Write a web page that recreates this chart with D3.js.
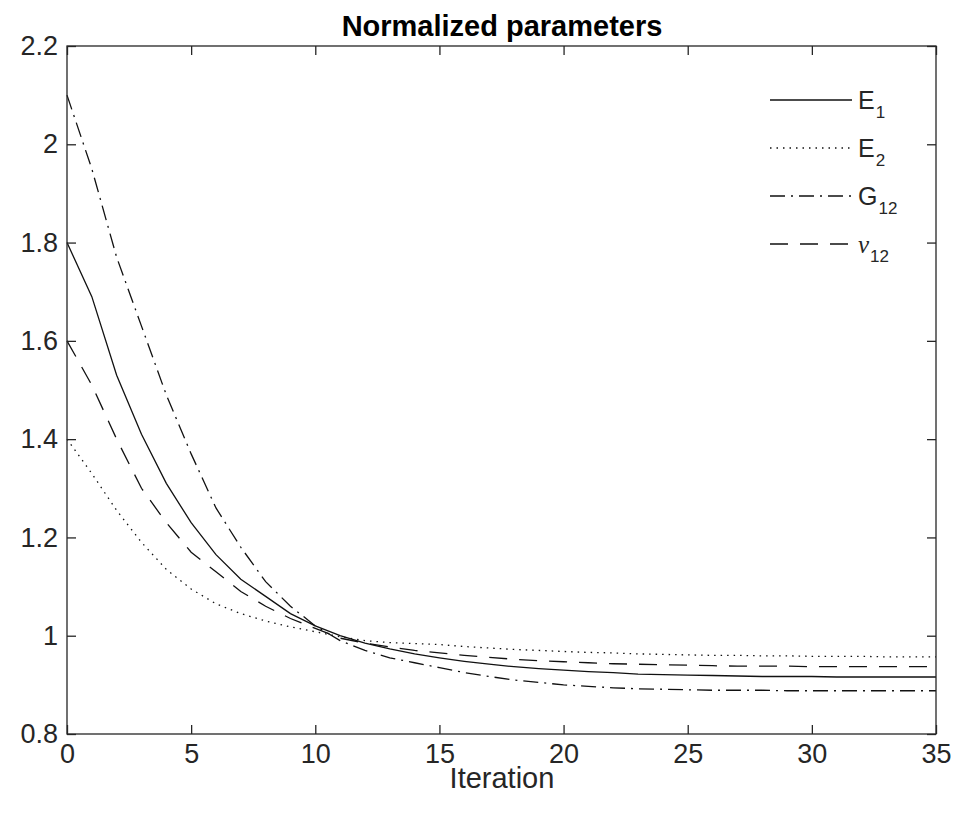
<!DOCTYPE html>
<html>
<head>
<meta charset="utf-8">
<script src="https://cdn.jsdelivr.net/npm/d3@7"></script>
<style>
  body { margin: 0; background: #fff; }
  svg { display: block; font-family: "Liberation Sans", Arial, sans-serif; }
  .tick-label { fill: #262626; font-size: 27px; }
</style>
</head>
<body>
<svg></svg>
<script>
// iterations 0..35
const iterations = d3.range(0, 36)

// values, one per iteration
const e1 = [1.80, 1.69, 1.53, 1.41, 1.31, 1.23, 1.165, 1.115, 1.08, 1.045, 1.02, 1.00,
    0.985, 0.973, 0.963, 0.955, 0.948, 0.942, 0.937, 0.933, 0.930, 0.927, 0.925, 0.922,
    0.921, 0.920, 0.919, 0.918, 0.917, 0.917, 0.917, 0.916, 0.916, 0.916, 0.916, 0.916]

const e2 = [1.40, 1.33, 1.255, 1.19, 1.135, 1.095, 1.065, 1.045, 1.03, 1.018, 1.008, 0.998,
    0.990, 0.986, 0.984, 0.982, 0.978, 0.975, 0.972, 0.970, 0.968, 0.966, 0.965, 0.963,
    0.962, 0.961, 0.960, 0.960, 0.959, 0.959, 0.958, 0.958, 0.958, 0.957, 0.957, 0.957]

const g12 = [2.10, 1.95, 1.77, 1.63, 1.49, 1.37, 1.26, 1.18, 1.11, 1.06, 1.02, 0.99,
    0.970, 0.955, 0.945, 0.935, 0.925, 0.917, 0.910, 0.905, 0.900, 0.897, 0.894, 0.892,
    0.891, 0.890, 0.889, 0.889, 0.889, 0.888, 0.888, 0.888, 0.888, 0.888, 0.888, 0.888]

const nu12 = [1.60, 1.51, 1.40, 1.30, 1.23, 1.17, 1.13, 1.09, 1.06, 1.035, 1.015, 0.995,
    0.985, 0.977, 0.970, 0.965, 0.960, 0.956, 0.952, 0.949, 0.947, 0.945, 0.943, 0.942,
    0.941, 0.940, 0.939, 0.938, 0.938, 0.938, 0.937, 0.937, 0.937, 0.937, 0.937, 0.937]

const xTicks = [0, 5, 10, 15, 20, 25, 30, 35]
const yTicks = [0.8, 1, 1.2, 1.4, 1.6, 1.8, 2, 2.2]

// legend entries: name, subscript, italic?, values, dash pattern
const series = [
    { name: "E", sub: "1", italic: false, values: e1, dash: null },
    { name: "E", sub: "2", italic: false, values: e2, dash: "1.5,5" },
    { name: "G", sub: "12", italic: false, values: g12, dash: "15,6,2,6" },
    { name: "\u03bd", sub: "12", italic: true, values: nu12, dash: "18,12" }
]

const svg = d3.select("svg")
    .attr("width", 956)
    .attr("height", 820)

const plotLeft = 67, plotRight = 936, plotTop = 46, plotBottom = 734

const scaleX = d3.scaleLinear().domain([0, 35]).range([plotLeft, plotRight])
const scaleY = d3.scaleLinear().domain([0.8, 2.2]).range([plotBottom, plotTop])

const axisColor = "#262626"
const tickLen = 9

// the curves
const line = d3.line()
    .x((d, i) => scaleX(iterations[i]))
    .y(d => scaleY(d))

svg.selectAll("path.series")
    .data(series)
    .enter()
    .append("path")
    .attr("class", "series")
    .attr("d", d => line(d.values))
    .attr("fill", "none")
    .attr("stroke", "#111")
    .attr("stroke-width", 1.3)
    .attr("stroke-dasharray", d => d.dash)

// box round the plot
svg.append("rect")
    .attr("x", plotLeft)
    .attr("y", plotTop)
    .attr("width", plotRight - plotLeft)
    .attr("height", plotBottom - plotTop)
    .attr("fill", "none")
    .attr("stroke", axisColor)
    .attr("stroke-width", 1.3)

// ticks pointing inward on all four sides
const bottomAxis = d3.axisBottom(scaleX).tickValues(xTicks).tickSize(-tickLen).tickFormat(d3.format("d")).tickPadding(10)
const topAxis = d3.axisTop(scaleX).tickValues(xTicks).tickSize(-tickLen).tickFormat("")
const leftAxis = d3.axisLeft(scaleY).tickValues(yTicks).tickSize(-tickLen).tickFormat(d3.format("~g")).tickPadding(9)
const rightAxis = d3.axisRight(scaleY).tickValues(yTicks).tickSize(-tickLen).tickFormat("")

const gb = svg.append("g").attr("transform", `translate(0, ${plotBottom})`).call(bottomAxis)
const gt = svg.append("g").attr("transform", `translate(0, ${plotTop})`).call(topAxis)
const gl = svg.append("g").attr("transform", `translate(${plotLeft}, 0)`).call(leftAxis)
const gr = svg.append("g").attr("transform", `translate(${plotRight}, 0)`).call(rightAxis)

;[gb, gt, gl, gr].forEach(g => {
    g.select(".domain").remove()
    g.selectAll(".tick line").attr("stroke", axisColor).attr("stroke-width", 1.3)
    g.selectAll(".tick text")
        .attr("class", "tick-label")
        .attr("font-family", null)
        .attr("font-size", null)
})

// title and axis label
svg.append("text")
    .attr("x", 502)
    .attr("y", 36)
    .attr("text-anchor", "middle")
    .attr("font-weight", "bold")
    .attr("font-size", 29)
    .attr("fill", "#000")
    .text("Normalized parameters")

svg.append("text")
    .attr("x", 502)
    .attr("y", 788)
    .attr("text-anchor", "middle")
    .attr("font-size", 29)
    .attr("fill", axisColor)
    .text("Iteration")

// legend without a box
const legend = svg.selectAll("g.legend")
    .data(series)
    .enter()
    .append("g")
    .attr("class", "legend")
    .attr("transform", (d, i) => `translate(770, ${100 + i * 48})`)

legend.append("line")
    .attr("x1", 0)
    .attr("x2", 82)
    .attr("y1", 0)
    .attr("y2", 0)
    .attr("stroke", "#111")
    .attr("stroke-width", 1.3)
    .attr("stroke-dasharray", d => d.dash)

const label = legend.append("text")
    .attr("x", 88)
    .attr("y", 9)
    .attr("font-size", 25)
    .attr("fill", axisColor)

label.append("tspan")
    .attr("font-style", d => d.italic ? "italic" : null)
    .attr("font-family", d => d.italic ? "Liberation Serif, serif" : null)
    .text(d => d.name)

label.append("tspan")
    .attr("dy", 9)
    .attr("dx", 1)
    .attr("font-size", 17)
    .text(d => d.sub)
</script>
</body>
</html>
